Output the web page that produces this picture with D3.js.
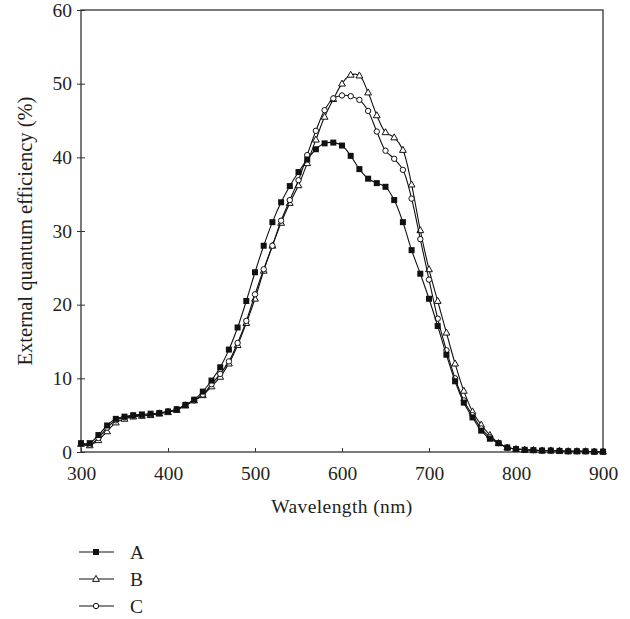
<!doctype html>
<html lang="en">
  <head>
    <meta charset="utf-8">
    <title>External quantum efficiency</title>
    <script src="https://d3js.org/d3.v7.min.js"></script>
    <style>
      body { margin: 0; background: #fff; }
      text { font-family: "Liberation Serif", "DejaVu Serif", serif; fill: #231f20; }
      .axis path, .axis line { stroke: #333; }
    </style>
  </head>
  <body>
    <div id="chart"></div>
    <script>
      // wavelength, nm (every 10 nm from 300 to 900)
      const wavelengths = d3.range(300, 901, 10);

      const seriesA = [1.2, 1.2, 2.3, 3.6, 4.5, 4.8, 5.0, 5.1, 5.2, 5.3,
        5.5, 5.8, 6.4, 7.1, 8.2, 9.7, 11.5, 13.9, 16.9, 20.5,
        24.4, 28.0, 31.2, 33.9, 36.1, 38.0, 39.7, 41.1, 41.9, 42.0,
        41.6, 40.2, 38.4, 37.1, 36.5, 36.0, 34.2, 31.2, 27.4, 24.2,
        20.8, 17.1, 13.2, 9.6, 6.7, 4.7, 2.9, 1.8, 1.2, 0.6,
        0.4, 0.3, 0.25, 0.2, 0.2, 0.15, 0.1, 0.1, 0.1, 0.05, 0.05];

      const seriesB = [1.1, 0.9, 1.6, 2.8, 4.0, 4.5, 4.8, 4.9, 5.0, 5.2,
        5.4, 5.7, 6.3, 7.0, 7.7, 8.9, 10.2, 12.0, 14.5, 17.5,
        20.8, 24.6, 28.0, 31.1, 33.8, 36.2, 39.2, 42.4, 45.5, 47.9,
        50.0, 51.2, 51.1, 48.8, 45.7, 43.4, 42.7, 41.0, 36.3, 30.1,
        24.8, 20.5, 16.2, 12.0, 8.3, 5.5, 3.7, 2.3, 1.2, 0.6,
        0.4, 0.3, 0.25, 0.2, 0.2, 0.15, 0.1, 0.1, 0.1, 0.05, 0.05];

      const seriesC = [1.1, 1.0, 1.9, 3.3, 4.3, 4.7, 4.9, 5.0, 5.1, 5.3,
        5.5, 5.8, 6.4, 7.0, 7.8, 9.2, 10.6, 12.3, 14.8, 17.8,
        21.4, 24.8, 28.0, 31.4, 34.2, 36.9, 40.3, 43.6, 46.4, 48.0,
        48.4, 48.3, 47.8, 46.3, 43.5, 40.9, 39.8, 38.3, 34.4, 28.9,
        23.4, 18.1, 13.8, 10.0, 7.0, 5.0, 3.2, 2.0, 1.2, 0.6,
        0.4, 0.3, 0.25, 0.2, 0.2, 0.15, 0.1, 0.1, 0.1, 0.05, 0.05];

      const seriesNames = ["A", "B", "C"];
      const xTicks = [300, 400, 500, 600, 700, 800, 900];
      const yTicks = [0, 10, 20, 30, 40, 50, 60];

      const margin = {top: 10, right: 27, bottom: 167, left: 81},
            width = 630 - margin.left - margin.right,
            height = 619 - margin.top - margin.bottom;

      const svg = d3.select("#chart")
        .append("svg")
        .attr("width", 630)
        .attr("height", 619);

      const g = svg.append("g")
        .attr("transform", `translate(${margin.left}, ${margin.top})`);

      const x = d3.scaleLinear().domain([300, 900]).range([0, width]);
      const y = d3.scaleLinear().domain([0, 60]).range([height, 0]);

      // frame
      g.append("rect")
        .attr("width", width)
        .attr("height", height)
        .attr("fill", "none")
        .attr("stroke", "#333")
        .attr("stroke-width", 1.3);

      // x axis, ticks pointing inward
      const xAxis = g.append("g")
        .attr("class", "axis")
        .attr("transform", `translate(0, ${height})`)
        .call(d3.axisBottom(x).tickValues(xTicks).tickSizeInner(-4).tickSizeOuter(0).tickPadding(14));
      xAxis.select(".domain").remove();
      xAxis.selectAll("text").style("font-size", "19.5px");

      // y axis, ticks crossing the axis line
      const yAxis = g.append("g")
        .attr("class", "axis")
        .call(d3.axisLeft(y).tickValues(yTicks).tickSize(0).tickPadding(9));
      yAxis.select(".domain").remove();
      yAxis.selectAll(".tick line").attr("x1", -4).attr("x2", 4);
      yAxis.selectAll("text").style("font-size", "19.5px");

      // axis titles
      g.append("text")
        .attr("x", width / 2)
        .attr("y", height + 61)
        .attr("text-anchor", "middle")
        .style("font-size", "19.5px")
        .style("letter-spacing", "0.4px")
        .text("Wavelength (nm)");

      g.append("text")
        .attr("transform", "rotate(-90)")
        .attr("x", -height / 2)
        .attr("y", -49)
        .attr("text-anchor", "middle")
        .style("font-size", "20.5px")
        .text("External quantum efficiency (%)");

      const allSeries = [seriesA, seriesB, seriesC];

      const line = d3.line()
        .x((d, i) => x(wavelengths[i]))
        .y(d => y(d))
        .curve(d3.curveCatmullRom.alpha(0.5));

      // draw a marker of a given series at (cx, cy)
      function marker(sel, k, cx, cy) {
        if (k === 0) {
          sel.append("rect")
            .attr("x", cx - 3).attr("y", cy - 3)
            .attr("width", 6).attr("height", 6)
            .attr("fill", "#111");
        } else if (k === 1) {
          sel.append("path")
            .attr("d", `M${cx},${cy - 3.6}L${cx + 3.4},${cy + 2.4}L${cx - 3.4},${cy + 2.4}Z`)
            .attr("fill", "#fff")
            .attr("stroke", "#111")
            .attr("stroke-width", 1);
        } else {
          sel.append("circle")
            .attr("cx", cx).attr("cy", cy)
            .attr("r", 2.7)
            .attr("fill", "#fff")
            .attr("stroke", "#111")
            .attr("stroke-width", 1);
        }
      }

      // draw B and C first, A on top
      [1, 2, 0].forEach(k => {
        const data = allSeries[k];
        g.append("path")
          .datum(data)
          .attr("fill", "none")
          .attr("stroke", "#111")
          .attr("stroke-width", 1.1)
          .attr("d", line);
        const mg = g.append("g");
        data.forEach((v, i) => marker(mg, k, x(wavelengths[i]), y(v)));
      });

      // legend
      const legend = svg.append("g")
        .attr("transform", "translate(79, 552)");
      seriesNames.forEach((name, k) => {
        const row = legend.append("g")
          .attr("transform", `translate(0, ${k * 27})`);
        row.append("line")
          .attr("x1", 0).attr("x2", 35)
          .attr("y1", 0).attr("y2", 0)
          .attr("stroke", "#111")
          .attr("stroke-width", 1.1);
        marker(row, k, 17, 0);
        row.append("text")
          .attr("x", 51)
          .attr("y", 6.5)
          .style("font-size", "19.5px")
          .text(name);
      });
    </script>
  </body>
</html>
